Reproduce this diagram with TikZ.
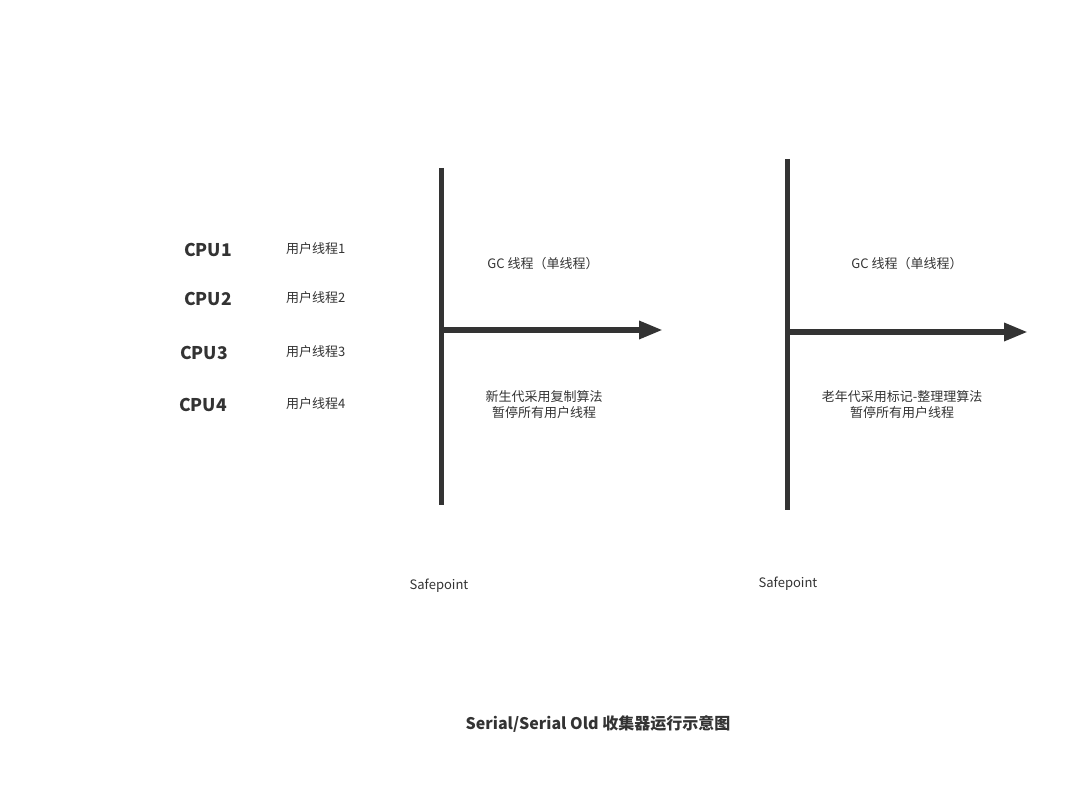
\documentclass[tikz,border=0pt]{standalone}
\usepackage{fontspec}
\setmainfont{Noto Sans CJK SC}
\usetikzlibrary{arrows.meta}
\definecolor{ink}{HTML}{333333}
\tikzset{
  lbl/.style={font=\fontsize{13}{16}\selectfont, text=ink, inner sep=0pt},
  cpu/.style={font=\fontsize{17.5}{20}\selectfont\bfseries, text=ink, inner sep=0pt},
  bar/.style={draw=ink, line width=5pt},
  flow/.style={draw=ink, line width=6pt, -{Triangle[length=24pt,width=17pt]}},
}
\begin{document}
\begin{tikzpicture}[x=1pt,y=-1pt]
\useasboundingbox (0,0) rectangle (1080,802);
% CPUs
\node[cpu] (c1) at (208,250) {CPU1};
\node[cpu] (c2) at (208,299) {CPU2};
\node[cpu] (c3) at (204,353) {CPU3};
\node[cpu] (c4) at (203,405) {CPU4};
\node[lbl, anchor=west] (t1) at (286,249) {用户线程1};
\node[lbl, anchor=west] (t2) at (286,298) {用户线程2};
\node[lbl, anchor=west] (t3) at (286,352) {用户线程3};
\node[lbl, anchor=west] (t4) at (286,404) {用户线程4};
% first safepoint
\coordinate (v1top) at (441,168);
\coordinate (v1bot) at (441,505);
\coordinate (a1s) at (441,330);
\coordinate (a1e) at (663,330);
\draw[bar] (v1top) -- (v1bot);
\draw[flow] (a1s) -- (a1e);
\node[lbl] (g1) at (543,264) {GC 线程（单线程）};
\node[lbl, align=center] (d1) at (544,405) {新生代采用复制算法\\暂停所有用户线程};
\node[lbl] (s1) at (439,586) {Safepoint};
% second safepoint
\coordinate (v2top) at (787,159);
\coordinate (v2bot) at (787,510);
\coordinate (a2s) at (787,332);
\coordinate (a2e) at (1028,332);
\draw[bar] (v2top) -- (v2bot);
\draw[flow] (a2s) -- (a2e);
\node[lbl] (g2) at (907,264) {GC 线程（单线程）};
\node[lbl, align=center] (d2) at (902,405) {老年代采用标记-整理理算法\\暂停所有用户线程};
\node[lbl] (s2) at (788,584) {Safepoint};
% title
\node[cpu, font=\fontsize{16}{18}\selectfont\bfseries] (title) at (598,724) {Serial/Serial Old 收集器运行示意图};
\end{tikzpicture}
\end{document}
